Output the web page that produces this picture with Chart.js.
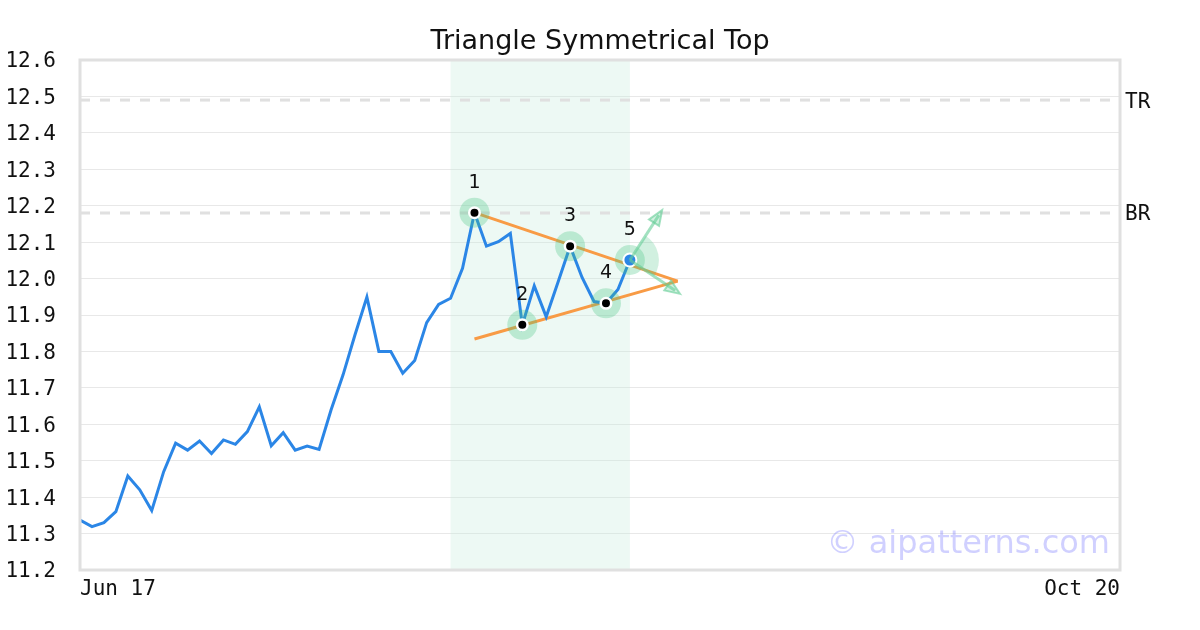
<!DOCTYPE html>
<html>
<head>
<meta charset="utf-8">
<script src="https://cdn.jsdelivr.net/npm/chart.js@4/dist/chart.umd.min.js"></script>
<style>
  html, body { margin: 0; padding: 0; background: #fff; }
  #wrap { width: 1200px; height: 630px; }
</style>
</head>
<body>
<div id="wrap"><canvas id="chart" width="1200" height="630"></canvas></div>
<script>
//  Daily closes, one per trading day starting Jun 17
const closes = [
  11.337, 11.319, 11.330, 11.360, 11.458, 11.420, 11.363, 11.470, 11.548, 11.529,
  11.554, 11.520, 11.557, 11.545, 11.580, 11.648, 11.541, 11.577, 11.529, 11.540,
  11.531, 11.639, 11.735, 11.845, 11.949, 11.800, 11.800, 11.740, 11.775, 11.879,
  11.929, 11.946, 12.028, 12.181, 12.089, 12.101, 12.124, 11.873, 11.980, 11.895,
  11.991, 12.089, 12.003, 11.937, 11.932, 11.970, 12.051
]
//  x axis: trading day index, only first and last are labelled
const dayCount = 87
const tickIndex = [0, 87]
const tickLabels = [`Jun 17`, `Oct 20`]

//  Horizontal levels shown on the right axis
const levelNames = [`TR`, `BR`]
const levelValues = [12.49, 12.18]

//  Pattern pivots
const pivotNames = [`1`, `2`, `3`, `4`, `5`]
const pivotIndex = [33, 37, 41, 44, 46]

//  Triangle boundaries (start / apex)
const upperX = [33, 50]
const upperY = [12.181, 11.993]
const lowerX = [33, 50]
const lowerY = [11.834, 11.993]

//  Breakout arrows from pivot 5
const arrowX = [48.7, 50.2]
const arrowY = [12.188, 11.958]

//  Pattern window shading
const zoneFrom = 31
const zoneTo = 46

const mono = `'DejaVu Sans Mono', monospace`
const sans = `'DejaVu Sans', sans-serif`
const haloColor = `rgba(70, 195, 130, 0.3)`
const arrowColor = `rgba(100, 205, 150, 0.6)`

const pairs = (xs, ys) => xs.map((x, i) => ({x, y: ys[i]}))

//  pixel position of the last pivot
const lastPivot = chart => {
  const {scales: {x, y}} = chart
  const p = pivotIndex[pivotIndex.length - 1]
  return [x.getPixelForValue(p), y.getPixelForValue(closes[p])]
}

const decor = {
  id: `decor`,
  beforeDatasetsDraw(chart) {
    const {ctx, chartArea: a, scales: {x}} = chart
    //  Pattern window
    ctx.save()
    ctx.fillStyle = `rgba(200, 235, 220, 0.32)`
    const l = x.getPixelForValue(zoneFrom)
    ctx.fillRect(l, a.top, x.getPixelForValue(zoneTo) - l, a.bottom - a.top)
    ctx.restore()
  },
  afterDatasetDraw(chart, args) {
    if (chart.data.datasets[args.index].label !== `halo`) return
    const {ctx, scales: {x, y}} = chart
    //  Breakout cone between the two arrows
    const [cx, cy] = lastPivot(chart)
    const angles = arrowX.map((ax, i) => Math.atan2(y.getPixelForValue(arrowY[i]) - cy, x.getPixelForValue(ax) - cx))
    ctx.save()
    ctx.fillStyle = `rgba(70, 195, 130, 0.25)`
    ctx.beginPath()
    ctx.moveTo(cx, cy)
    ctx.arc(cx, cy, 29, angles[0], angles[1])
    ctx.closePath()
    ctx.fill()
    ctx.restore()
  },
  afterDatasetsDraw(chart) {
    const {ctx, chartArea: a, scales: {x, y}} = chart
    const [sx, sy] = lastPivot(chart)
    ctx.save()
    //  Arrows
    arrowX.forEach((ax, i) => {
      const ex = x.getPixelForValue(ax)
      const ey = y.getPixelForValue(arrowY[i])
      const ang = Math.atan2(ey - sy, ex - sx)
      ctx.strokeStyle = arrowColor
      ctx.lineWidth = 3
      ctx.beginPath()
      ctx.moveTo(sx, sy)
      ctx.lineTo(ex - Math.cos(ang) * 6, ey - Math.sin(ang) * 6)
      ctx.stroke()
      const len = 15, half = 6
      const bx = ex - Math.cos(ang) * len
      const by = ey - Math.sin(ang) * len
      ctx.beginPath()
      ctx.moveTo(ex, ey)
      ctx.lineTo(bx - Math.sin(ang) * half, by + Math.cos(ang) * half)
      ctx.lineTo(bx + Math.sin(ang) * half, by - Math.cos(ang) * half)
      ctx.closePath()
      ctx.fillStyle = `rgba(100, 205, 150, 0.3)`
      ctx.fill()
      ctx.lineWidth = 2
      ctx.stroke()
    })
    //  Pivot numbers
    ctx.fillStyle = `#111`
    ctx.font = `19px ${sans}`
    ctx.textAlign = `center`
    ctx.textBaseline = `middle`
    pivotIndex.forEach((p, i) => {
      ctx.fillText(pivotNames[i], x.getPixelForValue(p), y.getPixelForValue(closes[p]) - 30)
    })
    //  Watermark
    ctx.fillStyle = `rgba(120, 120, 255, 0.35)`
    ctx.font = `32px ${sans}`
    ctx.textAlign = `right`
    ctx.textBaseline = `alphabetic`
    ctx.fillText(`© aipatterns.com`, a.right - 10, a.bottom - 17)
    //  Plot frame
    ctx.strokeStyle = `#e0e0e0`
    ctx.lineWidth = 3
    ctx.strokeRect(a.left, a.top, a.right - a.left, a.bottom - a.top)
    ctx.restore()
  }
}

const isLast = i => i === pivotIndex.length - 1

new Chart(document.getElementById(`chart`), {
  type: `line`,
  data: {
    datasets: [
      //  Pivot dots
      {
        label: `dots`,
        data: pivotIndex.map(p => ({x: p, y: closes[p]})),
        showLine: false,
        pointRadius: pivotIndex.map((p, i) => isLast(i) ? 6.5 : 5.25),
        pointBorderWidth: pivotIndex.map((p, i) => isLast(i) ? 2 : 2.5),
        pointBackgroundColor: pivotIndex.map((p, i) => isLast(i) ? `#2b86e6` : `#000`),
        pointBorderColor: `#fff`,
        order: 0
      },
      //  Pivot halos
      {
        label: `halo`,
        data: pivotIndex.map(p => ({x: p, y: closes[p]})),
        showLine: false,
        pointRadius: 15,
        pointBorderWidth: 0,
        pointBackgroundColor: haloColor,
        order: 1
      },
      //  Price
      {
        label: `close`,
        data: closes.map((v, i) => ({x: i, y: v})),
        borderColor: `#2b86e6`,
        borderWidth: 3,
        pointRadius: 0,
        tension: 0,
        order: 2
      },
      //  Triangle sides
      {
        label: `upper`,
        data: pairs(upperX, upperY),
        borderColor: `#f89b45`,
        borderWidth: 3,
        pointRadius: 0,
        order: 3
      },
      {
        label: `lower`,
        data: pairs(lowerX, lowerY),
        borderColor: `#f89b45`,
        borderWidth: 3,
        pointRadius: 0,
        order: 3
      },
      //  Levels
      ...levelValues.map((v, i) => ({
        label: levelNames[i],
        data: [{x: 0, y: v}, {x: dayCount, y: v}],
        borderColor: `#e0e0e0`,
        borderWidth: 3,
        borderDash: [10, 10],
        pointRadius: 0,
        order: 4
      }))
    ]
  },
  options: {
    responsive: false,
    animation: false,
    events: [],
    layout: { padding: 0 },
    plugins: {
      legend: { display: false },
      tooltip: { enabled: false },
      title: {
        display: true,
        text: `Triangle Symmetrical Top`,
        color: `#111`,
        font: { family: sans, size: 27, weight: `normal` },
        padding: { top: 26, bottom: 1.6 }
      }
    },
    scales: {
      x: {
        type: `linear`,
        min: 0,
        max: dayCount,
        grid: { display: false, drawTicks: false },
        border: { display: false },
        afterBuildTicks: s => { s.ticks = tickIndex.map(v => ({value: v})) },
        afterFit: s => { s.height = 60 },
        ticks: {
          autoSkip: false,
          maxRotation: 0,
          align: `inner`,
          padding: 7,
          color: `#111`,
          font: { family: mono, size: 21 },
          callback: v => tickLabels[tickIndex.indexOf(v)]
        }
      },
      y: {
        position: `left`,
        min: 11.2,
        max: 12.6,
        grid: { color: `#e8e8e8`, drawTicks: false },
        border: { display: false },
        afterFit: s => { s.width = 80 },
        ticks: {
          stepSize: 0.1,
          padding: 24,
          labelOffset: 2,
          color: `#111`,
          font: { family: mono, size: 21 },
          callback: v => v.toFixed(1)
        }
      },
      y2: {
        position: `right`,
        min: 11.2,
        max: 12.6,
        grid: { display: false, drawTicks: false },
        border: { display: false },
        afterBuildTicks: s => { s.ticks = levelValues.map(v => ({value: v})) },
        afterFit: s => { s.width = 80 },
        ticks: {
          autoSkip: false,
          padding: 5,
          labelOffset: 2,
          color: `#111`,
          font: { family: mono, size: 21 },
          callback: v => levelNames[levelValues.indexOf(v)]
        }
      }
    }
  },
  plugins: [decor]
})
</script>
</body>
</html>
